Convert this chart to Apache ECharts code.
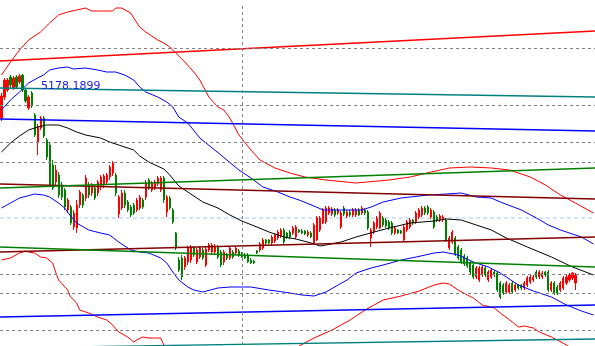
<!DOCTYPE html>
<html><head><meta charset="utf-8">
<script src="https://cdn.jsdelivr.net/npm/echarts@6/dist/echarts.min.js"></script>
<style>html,body{margin:0;padding:0;background:#fff}#c{width:595px;height:346px}</style>
</head><body><div id="c"></div>
<script>
const SLOTS = 198;
const categories = Array.from({length: SLOTS}, (_, i) => String(i));

const open = [4820,5030,5100,5230,5120,5230,5180,5250,5100,4920,
5070,4850,4580,4720,4820,4600,4550,4350,4180,4250,
4150,4100,3900,3930,3730,3720,3950,4050,4020,4150,
4070,4120,4070,4130,4150,4180,4230,4270,4250,3860,
3920,4070,3980,3930,3950,3900,3920,4000,4030,4200,
4100,4120,4160,4100,4220,3880,4020,3900,3670,3400,
3420,3330,3380,3400,3520,3380,3430,3500,3350,3500,
3480,3480,3530,3480,3380,3450,3420,3480,3470,3490,
3470,3450,3450,3400,3390,3490,3500,3520,3600,3600,
3570,3590,3620,3640,3700,3670,3680,3670,3630,3700,
3690,3690,3650,3670,3570,3600,3700,3770,3780,3870,
3860,3900,3870,3730,3920,3840,3880,3850,3850,3900,
3870,3900,3880,3620,3680,3730,3720,3820,3800,3780,
3770,3670,3700,3690,3600,3700,3730,3800,3780,3830,
3850,3920,3930,3830,3880,3830,3800,3800,3800,3520,
3580,3620,3530,3500,3440,3420,3370,3350,3230,3200,
3250,3320,3200,3230,3280,3270,3170,3150,3080,3080,
3170,3100,3150,3150,3120,3150,3180,3200,3280,3230,
3230,3280,3280,3100,3170,3130,3100,3120,3170,3200,
3220,3170];
const close = [5040,5200,5200,5150,5220,5130,5240,5100,4990,5030,
4940,4650,4730,4820,4640,4430,4150,4120,4300,4050,
4030,3930,4000,3770,3870,3950,4080,3950,4220,4050,
4150,4020,4180,4230,4240,4250,4330,4370,4070,4030,
4070,3950,3900,3850,3870,4000,4030,3930,4170,4120,
4170,4180,4220,4220,4000,4030,3920,3780,3520,3300,
3230,3420,3520,3530,3450,3500,3520,3420,3510,3550,
3550,3540,3430,3350,3480,3420,3520,3430,3520,3450,
3430,3420,3380,3370,3370,3470,3560,3600,3570,3570,
3630,3650,3680,3700,3580,3630,3630,3720,3730,3680,
3670,3660,3680,3630,3750,3820,3820,3900,3920,3920,
3910,3850,3900,3870,3860,3880,3850,3900,3900,3850,
3920,3870,3720,3700,3770,3820,3870,3750,3740,3720,
3670,3720,3670,3670,3730,3780,3800,3770,3870,3900,
3920,3870,3870,3900,3730,3800,3840,3830,3600,3620,
3680,3460,3420,3380,3360,3340,3280,3230,3320,3320,
3330,3250,3280,3300,3250,3100,3030,3070,3170,3150,
3080,3150,3120,3120,3170,3220,3230,3230,3230,3280,
3270,3250,3100,3170,3070,3070,3170,3220,3230,3250,
3270,3250];
const low = [4790,5000,5080,5120,5100,5110,5160,5080,4970,4900,
4920,4630,4450,4700,4620,4400,4130,4100,4150,4020,
4000,3900,3870,3750,3700,3670,3920,3920,3990,4020,
4040,4000,4040,4100,4120,4150,4200,4240,4040,3820,
3900,3920,3880,3830,3850,3880,3900,3910,4000,4100,
4080,4100,4140,4080,3970,3830,3900,3760,3500,3280,
3200,3300,3350,3370,3430,3360,3410,3400,3330,3480,
3460,3460,3410,3330,3350,3400,3400,3410,3450,3430,
3420,3410,3370,3360,3360,3460,3480,3500,3550,3560,
3550,3570,3600,3620,3560,3610,3610,3650,3610,3670,
3660,3650,3630,3620,3560,3590,3680,3760,3760,3850,
3840,3830,3850,3710,3840,3820,3830,3830,3830,3840,
3850,3850,3700,3530,3660,3710,3710,3730,3720,3700,
3650,3650,3660,3660,3590,3680,3710,3750,3760,3810,
3830,3850,3850,3810,3710,3780,3780,3780,3580,3500,
3560,3440,3400,3360,3340,3320,3260,3210,3210,3180,
3230,3230,3180,3210,3230,3080,3010,3050,3060,3060,
3060,3080,3100,3100,3100,3130,3160,3180,3210,3210,
3210,3230,3080,3080,3050,3050,3080,3100,3150,3180,
3200,3100];
const high = [5070,5220,5220,5250,5240,5250,5260,5260,5120,5050,
5090,4870,4760,4840,4840,4620,4570,4400,4350,4280,
4180,4120,4020,3950,3900,4000,4100,4070,4250,4180,
4170,4150,4200,4250,4260,4270,4350,4390,4270,4050,
4100,4100,4000,3950,3970,4020,4050,4020,4200,4220,
4190,4200,4240,4240,4240,4050,4040,3920,3680,3430,
3450,3440,3540,3550,3540,3520,3540,3520,3530,3570,
3570,3560,3550,3500,3500,3470,3540,3500,3540,3510,
3480,3470,3470,3420,3400,3500,3580,3620,3610,3610,
3650,3670,3700,3720,3720,3680,3700,3740,3750,3710,
3710,3700,3700,3690,3770,3840,3840,3920,3940,3940,
3930,3920,3920,3890,3940,3900,3900,3920,3920,3920,
3940,3920,3900,3720,3790,3840,3890,3840,3820,3800,
3790,3740,3710,3700,3750,3800,3820,3810,3890,3920,
3940,3940,3950,3920,3900,3850,3860,3850,3820,3640,
3700,3640,3550,3520,3460,3440,3390,3370,3340,3340,
3350,3340,3300,3320,3300,3290,3190,3170,3190,3170,
3190,3170,3160,3160,3190,3240,3250,3250,3300,3300,
3290,3290,3300,3190,3190,3150,3190,3240,3250,3270,
3280,3270];

const redUpper = [[0,5250],[3,5380],[6,5500],[9,5600],[13,5680],[16,5770],[19,5850],[22,5880],[25,5900],[28,5920],[30,5890],[33,5890],[37,5890],[38,5920],[40,5920],[43,5870],[44,5820],[46,5730],[48,5680],[52,5600],[54,5570],[56,5530],[58,5470],[61,5380],[64,5280],[66,5200],[69,5030],[72,4930],[74,4900],[76,4820],[79,4650],[83,4500],[86,4400],[91,4320],[96,4270],[101,4230],[108,4200],[118,4170],[129,4200],[136,4230],[143,4280],[149,4320],[156,4330],[163,4320],[169,4300],[176,4230],[181,4150],[186,4050],[191,3970],[197,3870]];
const redLower = [[0,3400],[3,3420],[6,3470],[8,3490],[9,3480],[11,3470],[13,3430],[15,3420],[17,3370],[18,3280],[19,3200],[22,3100],[23,3030],[25,2970],[26,2900],[28,2880],[29,2870],[32,2830],[35,2800],[37,2750],[39,2680],[42,2630],[44,2580],[45,2600],[47,2630],[49,2620],[52,2620],[53,2620],[54,2550],[58,2400],[66,2250],[83,2250],[96,2450],[99,2540],[104,2620],[110,2700],[116,2800],[121,2900],[127,3000],[133,3040],[139,3090],[144,3150],[147,3170],[149,3160],[152,3100],[155,3050],[157,3020],[160,2950],[164,2920],[166,2870],[170,2780],[172,2730],[174,2740],[177,2720],[179,2680],[183,2630],[185,2600],[188,2550],[193,2450],[197,2380]];
const blueUpper = [[0,4900],[3,5000],[6,5080],[9,5170],[12,5220],[14,5250],[16,5300],[19,5320],[22,5330],[24,5310],[28,5320],[32,5300],[35,5280],[38,5280],[41,5250],[44,5200],[46,5130],[48,5080],[52,5030],[55,4980],[57,4930],[59,4830],[62,4770],[66,4620],[73,4450],[79,4300],[83,4220],[87,4130],[92,4080],[96,4030],[99,4000],[104,3940],[107,3900],[113,3900],[120,3900],[123,3930],[127,3980],[133,4020],[142,4050],[148,4060],[153,4070],[158,4030],[163,4020],[166,3980],[173,3900],[178,3820],[182,3750],[186,3700],[188,3680],[193,3630],[197,3560]];
const blueLower = [[0,3920],[3,3970],[6,4020],[11,4060],[14,4050],[16,4030],[19,3970],[21,3920],[23,3840],[25,3770],[29,3700],[33,3670],[36,3650],[39,3580],[43,3500],[46,3480],[49,3470],[53,3420],[55,3370],[57,3280],[59,3200],[62,3130],[64,3100],[67,3080],[72,3120],[76,3130],[83,3130],[89,3100],[96,3070],[100,3050],[104,3040],[108,3080],[112,3150],[115,3200],[118,3270],[123,3320],[127,3350],[133,3400],[138,3430],[144,3470],[147,3480],[152,3450],[157,3380],[162,3330],[166,3270],[172,3150],[177,3090],[183,3030],[188,2950],[193,2890],[197,2850]];
const middle = [[0,4480],[3,4570],[6,4640],[9,4700],[12,4730],[15,4750],[19,4750],[22,4720],[25,4680],[28,4650],[33,4620],[36,4580],[39,4550],[44,4500],[46,4440],[49,4380],[54,4310],[56,4250],[59,4140],[63,4060],[67,3980],[72,3920],[76,3850],[80,3790],[85,3730],[89,3680],[94,3630],[98,3610],[103,3570],[106,3540],[108,3550],[113,3580],[118,3630],[124,3680],[129,3720],[136,3770],[144,3790],[148,3810],[153,3800],[158,3750],[163,3700],[168,3620],[175,3530],[183,3430],[190,3330],[197,3250]];

// straight lines: value at left edge, value at right edge
const trendRedTop = [5390, 5690];
const trendTealTop = [5120, 5030];
const trendBlueTop = [4810, 4690];
const trendMaroonA = [4160, 4010];
const trendGreenA = [4120, 4320];
const trendMaroonB = [3480, 3630];
const trendGreenB = [3530, 3330];
const trendBlueB = [2830, 2950];
const trendTealB = [2520, 2610];

const gridLevels = [5520, 4950, 4580, 4380, 3260, 3070, 2700];
const centerLevel = 3820;
const markerIndex = 80;
const markerTop = 5940;
const priceLabel = '5178.1899';
const priceLabelAt = [13, 5135];
const cornerText = '1100';

const X0 = -0.5, X1 = SLOTS - 0.5, YMIN = 2540, YMAX = 6000;
const candles = open.map((o, i) => [o, close[i], low[i], high[i]]);

function band(data, color) {
  return {type: 'line', xAxisIndex: 1, data: data, symbol: 'none', showSymbol: false,
    lineStyle: {color: color, width: 1}, z: 4, silent: true, animation: false};
}
function trend(v, color, extra) {
  return Object.assign({type: 'line', xAxisIndex: 1, data: [[X0, v[0]], [X1, v[1]]], symbol: 'none',
    showSymbol: false, lineStyle: {color: color, width: 1.3}, z: 4, silent: true, animation: false}, extra || {});
}

const chart = echarts.init(document.getElementById('c'), null, {renderer: 'canvas'});
chart.setOption({
  animation: false,
  backgroundColor: '#ffffff',
  grid: {left: 0, right: 0, top: 0, bottom: 0, containLabel: false},
  xAxis: [
    {type: 'category', data: categories, show: false, boundaryGap: true},
    {type: 'value', min: X0, max: X1, show: false}
  ],
  yAxis: {type: 'value', min: YMIN, max: YMAX, show: false},
  graphic: [{type: 'text', right: 1, top: -9, z: 100,
    style: {text: cornerText, fill: '#0000ff', font: '12px "Liberation Sans"'}}],
  series: [
    {type: 'line', xAxisIndex: 1, data: [[X0, centerLevel], [X1, centerLevel]], symbol: 'none',
      lineStyle: {color: '#a6caf0', width: 1, type: [4, 3]}, z: 1, silent: true,
      markLine: {silent: true, symbol: ['none', 'none'], label: {show: false}, animation: false,
        lineStyle: {color: '#808080', width: 1, type: [3, 3]},
        data: gridLevels.map(v => ({yAxis: v})).concat([[{coord: [markerIndex, markerTop]}, {coord: [markerIndex, YMIN]}]])}
    },
    {type: 'candlestick', data: candles, barWidth: 1.6, z: 2, silent: true,
      itemStyle: {color: '#ff0000', color0: '#008000', borderColor: '#ff0000', borderColor0: '#008000', borderWidth: 1}},
    band(redUpper, '#ff0000'),
    band(redLower, '#ff0000'),
    band(blueUpper, '#0000ff'),
    band(blueLower, '#0000ff'),
    band(middle, '#000000'),
    trend(trendRedTop, '#ff0000'),
    trend(trendTealTop, '#008080', {
      markPoint: {silent: true, animation: false, data: [{coord: priceLabelAt, symbol: 'circle', symbolSize: 1,
        itemStyle: {color: 'rgba(0,0,0,0)'},
        label: {show: true, position: 'right', distance: 0, formatter: priceLabel,
          color: '#2020e8', fontSize: 11, fontFamily: 'DejaVu Sans'}}]}
    }),
    trend(trendBlueTop, '#0000ff'),
    trend(trendMaroonA, '#800000'),
    trend(trendGreenA, '#008000'),
    trend(trendMaroonB, '#800000'),
    trend(trendGreenB, '#008000'),
    trend(trendBlueB, '#0000ff'),
    trend(trendTealB, '#008080')
  ]
});
</script></body></html>
